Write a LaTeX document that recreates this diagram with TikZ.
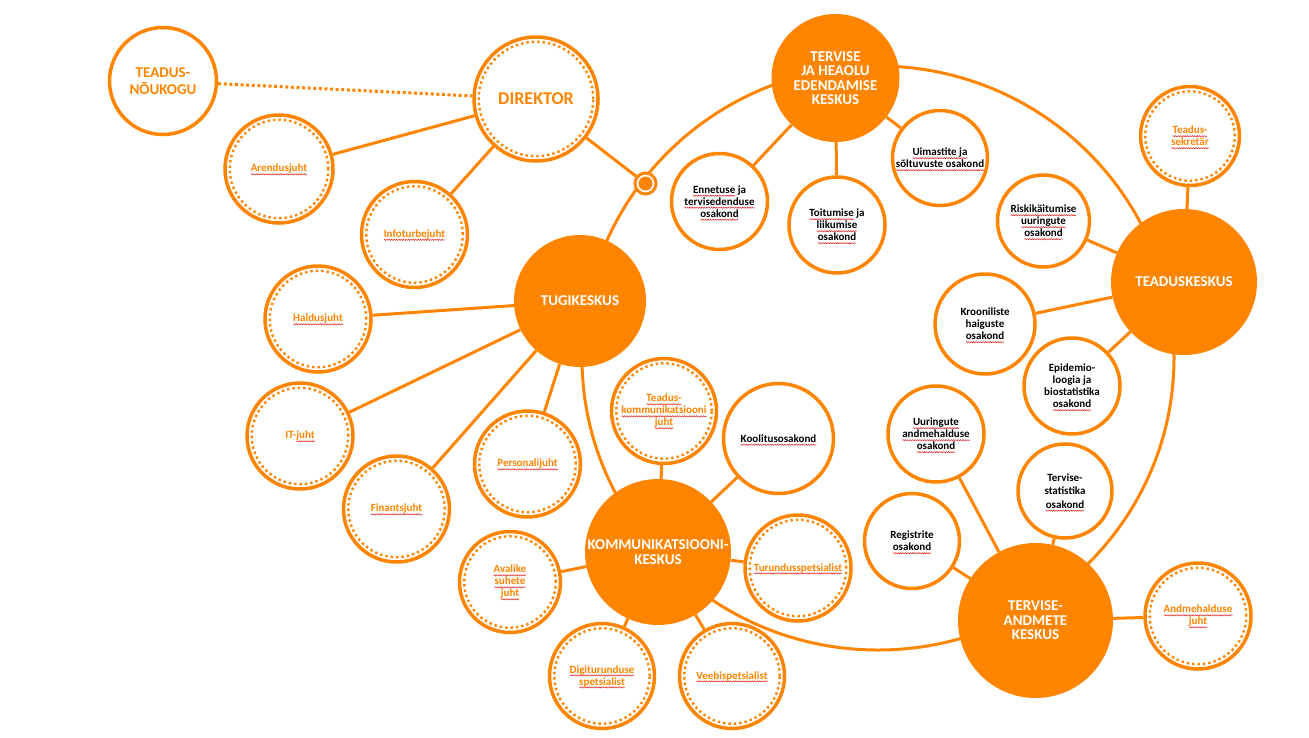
\documentclass[tikz,border=0pt]{standalone}
\usepackage{fontspec}
\setmainfont{Carlito}
\usetikzlibrary{backgrounds,calc,decorations.pathmorphing}
\definecolor{brand}{RGB}{255,133,0}
\definecolor{squigred}{RGB}{228,48,48}
\tikzset{squiggle/.style={draw=squigred, line width=0.55pt, decorate,
  decoration={snake, amplitude=0.6pt, segment length=2.4pt}}}
\newsavebox\squigbox
\newlength\squigwd
\newcommand\squig[1]{\sbox\squigbox{#1}\setlength\squigwd{\wd\squigbox}%
  \rlap{\tikz[overlay,baseline=0pt]\draw[squiggle] (0pt,-2.4pt) -- (\squigwd,-2.4pt);}%
  \usebox\squigbox}

\begin{document}
\begin{tikzpicture}[
  x=1pt, y=-1pt,
  font=\bfseries\fontsize{11}{12}\selectfont,
  hub/.style={circle, fill=brand, text=white, align=center, inner sep=0pt,
    font=\bfseries\fontsize{15}{14.5}\selectfont},
  unit/.style={circle, draw=brand, fill=white, line width=3.5pt,
    align=center, inner sep=0pt},
  dotring/.style={draw=brand, line width=2.4pt, dash pattern=on 2.4pt off 3pt},
  staff/.style={unit, text=brand,
    path picture={\draw[dotring] let \p1=(path picture bounding box.north),
      \p2=(path picture bounding box.center) in
      (\p2) circle[radius=\y1-\y2-4.75pt];}},
  joint/.style={circle, draw=brand, fill=white, line width=3pt,
    minimum size=21pt, inner sep=0pt,
    path picture={\fill[brand] (path picture bounding box.center) circle[radius=7pt];}},
  link/.style={draw=brand, line width=3pt},
  dotline/.style={link, dash pattern=on 3pt off 2.6pt}
]
\useasboundingbox (0,0) rectangle (1309,737);

% Leadership
\node[unit, text=brand, minimum size=107pt,
  font=\bfseries\fontsize{15}{17}\selectfont] (council) at (163,81) {TEADUS-\\NÕUKOGU};
\node[staff, minimum size=124pt,
  font=\bfseries\fontsize{18}{20}\selectfont] (director) at (536,99) {DIREKTOR};
\node[staff, minimum size=108pt] (arendus) at (279,169) {\squig{Arendusjuht}};
\node[staff, minimum size=106pt] (infoturve) at (414.5,234.5) {\squig{Infoturbejuht}};
\node[joint] (junction) at (645.5,183.5) {};

% Support centre
\node[hub, minimum size=132pt] (tugi) at (580,301) {TUGIKESKUS};
\node[staff, minimum size=106pt] (haldus) at (318,319) {\squig{Haldusjuht}};
\node[staff, minimum size=106pt] (itjuht) at (300,436) {IT-\squig{juht}};
\node[staff, minimum size=106pt] (finants) at (396.5,509) {\squig{Finantsjuht}};
\node[staff, minimum size=106pt] (personal) at (527.5,464) {\squig{Personalijuht}};

% Health promotion centre
\node[hub, minimum size=128pt] (tervis) at (835.5,78) {TERVISE\\JA HEAOLU\\EDENDAMISE\\KESKUS};
\node[unit, minimum size=96pt] (ennetus) at (719.5,201.5)
  {\squig{Ennetuse} ja\\\squig{tervisedenduse}\\\squig{osakond}};
\node[unit, minimum size=96pt] (toitumine) at (837,225)
  {\squig{Toitumise} ja\\\squig{liikumise}\\\squig{osakond}};
\node[unit, minimum size=95pt] (uimastid) at (940,158)
  {\squig{Uimastite ja}\\\squig{sõltuvuste osakond}};

% Research centre
\node[hub, minimum size=146pt] (teadus) at (1184,282) {TEADUSKESKUS};
\node[staff, minimum size=99pt] (sekretar) at (1190,136) {\squig{Teadus-}\\\squig{sekretär}};
\node[unit, minimum size=92pt] (riskid) at (1043.5,221)
  {\squig{Riskikäitumise}\\\squig{uuringute}\\\squig{osakond}};
\node[unit, minimum size=100pt] (kroonilised) at (985,324)
  {Krooniliste\\haiguste\\\squig{osakond}};
\node[unit, minimum size=96pt] (epidemio) at (1072,386)
  {Epidemio-\\loogia ja\\biostatistika\\\squig{osakond}};

% Health data centre
\node[hub, minimum size=155pt] (andmed) at (1035.5,620.5) {TERVISE-\\ANDMETE\\KESKUS};
\node[unit, minimum size=96pt] (uuringud) at (936,434)
  {\squig{Uuringute}\\\squig{andmehalduse}\\\squig{osakond}};
\node[unit, minimum size=94pt, font=\bfseries\fontsize{11}{13.5}\selectfont] (statistika) at (1065,491)
  {Tervise-\\statistika\\\squig{osakond}};
\node[unit, minimum size=95pt] (registrid) at (912,541) {Registrite\\\squig{osakond}};
\node[staff, minimum size=106pt] (andmehaldus) at (1198,616)
  {\squig{Andmehalduse}\\\squig{juht}};

% Communication centre
\node[hub, minimum size=146pt] (komm) at (658,552) {KOMMUNIKATSIOONI-\\KESKUS};
\node[staff, minimum size=105pt] (teaduskomm) at (664,411)
  {\squig{Teadus-}\\\squig{kommunikatsiooni}\\\squig{juht}};
\node[unit, minimum size=110pt] (koolitus) at (778.5,438.5) {\squig{Koolitusosakond}};
\node[staff, minimum size=106pt] (turundus) at (798,568) {\squig{Turundusspetsialist}};
\node[staff, minimum size=101pt] (avalikud) at (510,582)
  {\squig{Avalike}\\\squig{suhete}\\\squig{juht}};
\node[staff, minimum size=105pt] (digi) at (602,676)
  {\squig{Digiturunduse}\\\squig{spetsialist}};
\node[staff, minimum size=105pt] (veeb) at (732,676) {\squig{Veebispetsialist}};

% Ring through the centres
\coordinate (ringcentre) at (878,358);
\begin{scope}[on background layer]
  \draw[link] (ringcentre) ellipse[x radius=296pt, y radius=292pt];
\end{scope}

% Connectors
\draw[dotline] (council) -- (director);
\draw[link] (director) -- (arendus);
\draw[link] (director) -- (infoturve);
\draw[link] (director) -- (junction);

\draw[link] (tugi) -- (haldus);
\draw[link] (tugi) -- (itjuht);
\draw[link] (tugi) -- (finants);
\draw[link] (tugi) -- (personal);

\draw[link] (tervis) -- (ennetus);
\draw[link] (tervis) -- (toitumine);
\draw[link] (tervis) -- (uimastid);

\draw[link] (teadus) -- (sekretar);
\draw[link] (teadus) -- (riskid);
\draw[link] (teadus) -- (kroonilised);
\draw[link] (teadus) -- (epidemio);

\draw[link] (andmed) -- (uuringud);
\draw[link] (andmed) -- (statistika);
\draw[link] (andmed) -- (registrid);
\draw[link] (andmed) -- (andmehaldus);

\draw[link] (komm) -- (teaduskomm);
\draw[link] (komm) -- (koolitus);
\draw[link] (komm) -- (turundus);
\draw[link] (komm) -- (avalikud);
\draw[link] (komm) -- (digi);
\draw[link] (komm) -- (veeb);

\end{tikzpicture}
\end{document}
